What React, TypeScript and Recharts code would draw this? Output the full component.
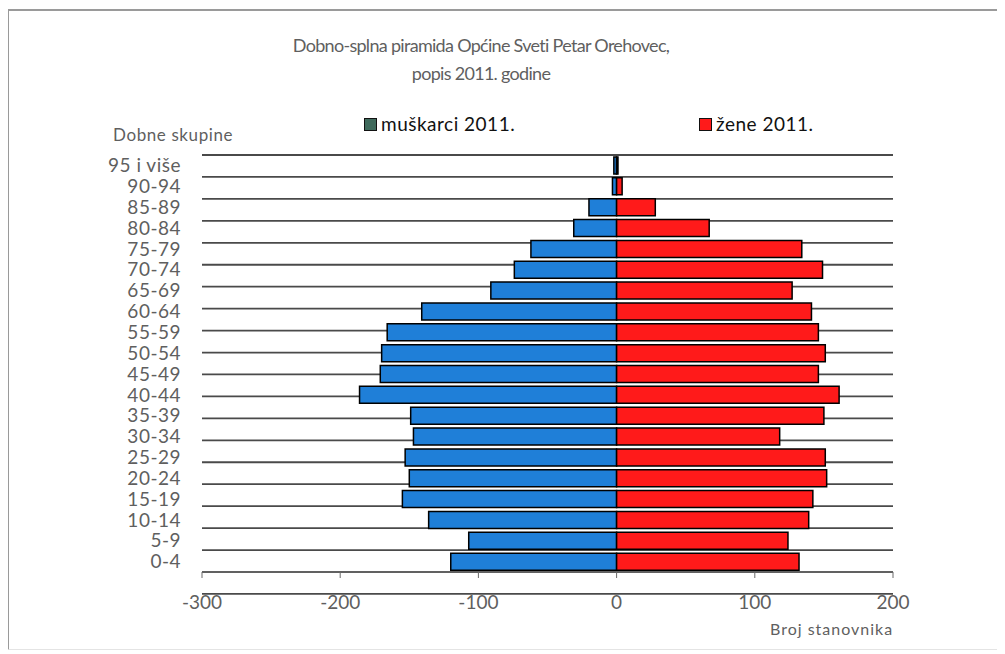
import React from "react";
import {
  BarChart,
  Bar,
  XAxis,
  YAxis,
  CartesianGrid,
  Legend,
} from "recharts";

const ageGroups = [
  "95 i više", "90-94", "85-89", "80-84", "75-79", "70-74", "65-69",
  "60-64", "55-59", "50-54", "45-49", "40-44", "35-39", "30-34",
  "25-29", "20-24", "15-19", "10-14", "5-9", "0-4",
];
const males = [2, 3, 20, 31, 62, 74, 91, 141, 166, 170, 171, 186, 149, 147, 153, 150, 155, 136, 107, 120];
const females = [1, 4, 28, 67, 134, 149, 127, 141, 146, 151, 146, 161, 150, 118, 151, 152, 142, 139, 124, 132];
const xTicks = [-300, -200, -100, 0, 100, 200];
const gridTicks = [0, 1, 2, 3, 4, 5, 6, 7, 8, 9, 10, 11, 12, 13, 14, 15, 16, 17, 18, 19, 20];

const seriesNames = { m: "muškarci 2011.", z: "žene 2011." };
const legendSwatch: Record<string, string> = { m: "#3f6a5c", z: "#ff1a1a" };

const data = ageGroups.map((g, i) => ({ group: g, m: -males[i], z: females[i] }));

const GREY = "#5f5f5f";
const FONT = "Lato, 'Open Sans', sans-serif";

const renderLegend = (props: any) => {
  const payload = props.payload || [];
  const lefts: Record<string, number> = { m: 364, z: 699 };
  return (
    <div style={{ position: "relative", width: 1005, height: 0, overflow: "visible" }}>
      {payload.map((p: any) => (
        <div
          key={p.dataKey}
          style={{
            position: "absolute",
            left: lefts[p.dataKey],
            top: 0,
            display: "flex",
            alignItems: "center",
            fontFamily: FONT,
            fontSize: 19,
            letterSpacing: 0.5,
            lineHeight: "22px",
            color: "#111",
            whiteSpace: "nowrap",
          }}
        >
          <span
            style={{
              display: "inline-block",
              width: 11,
              height: 11,
              background: legendSwatch[p.dataKey],
              border: "1.5px solid #111",
              marginRight: 4,
            }}
          />
          {p.value}
        </div>
      ))}
    </div>
  );
};

export default function App() {
  return (
    <div
      style={{
        position: "relative",
        left: -8,
        top: -8,
        width: 1005,
        height: 654,
        background: "#fff",
        fontFamily: FONT,
      }}
    >
      <div
        style={{
          position: "absolute",
          left: 7,
          top: 9,
          right: -2,
          bottom: 4,
          borderTop: "2px solid #9a9a9a",
          borderLeft: "2px solid #9a9a9a",
          borderBottom: "1px solid #e4e4e4",
        }}
      />
      <div
        style={{
          position: "absolute",
          left: 0,
          width: 962,
          top: 31,
          textAlign: "center",
          color: GREY,
          fontSize: 18,
          letterSpacing: -0.7,
          lineHeight: "28px",
          fontFamily: FONT,
        }}
      >
        Dobno-splna piramida Općine Sveti Petar Orehovec,
        <br />
        popis 2011. godine
      </div>
      <div
        style={{
          position: "absolute",
          left: 113,
          top: 124,
          color: GREY,
          fontSize: 17,
          letterSpacing: 0.6,
          fontFamily: FONT,
        }}
      >
        Dobne skupine
      </div>
      <div
        style={{
          position: "absolute",
          left: 770,
          top: 619,
          color: GREY,
          fontSize: 16,
          letterSpacing: 1,
          fontFamily: FONT,
        }}
      >
        Broj stanovnika
      </div>
      <div style={{ position: "absolute", left: 0, top: 0 }}>
        <BarChart
          width={1005}
          height={654}
          data={data}
          layout="vertical"
          stackOffset="sign"
          margin={{ top: 155, right: 112, bottom: 52, left: 0 }}
          barSize={17}
        >
          <YAxis yAxisId="grid" type="number" domain={[0, 20]} ticks={gridTicks} interval={0} hide />
          <CartesianGrid
            yAxisId="grid"
            vertical={false}
            horizontal
            stroke="#4a4a4a"
            strokeWidth={1.8}
          />
          <XAxis
            type="number"
            domain={[-300, 200]}
            ticks={xTicks}
            allowDataOverflow
            axisLine={{ stroke: "#6a6a6a", strokeWidth: 1.5 }}
            tickLine={{ stroke: "#6a6a6a" }}
            tickSize={6}
            tickMargin={18}
            tick={{ fill: GREY, fontSize: 19, fontFamily: FONT }}
          />
          <YAxis
            type="category"
            dataKey="group"
            width={202}
            axisLine={false}
            tickLine={false}
            tickSize={0}
            tickMargin={21}
            interval={0}
            tick={{ fill: GREY, fontSize: 19, letterSpacing: 0.5, fontFamily: FONT }}
          />
          <Legend
            verticalAlign="top"
            content={renderLegend}
            wrapperStyle={{ position: "absolute", top: 113, left: 0, width: 1005, height: 0 }}
          />
          <Bar
            dataKey="m"
            name={seriesNames.m}
            stackId="a"
            fill="#1f7fd8"
            stroke="#000"
            strokeWidth={1.5}
            isAnimationActive={false}
          />
          <Bar
            dataKey="z"
            name={seriesNames.z}
            stackId="a"
            fill="#ff1a1a"
            stroke="#000"
            strokeWidth={1.5}
            isAnimationActive={false}
          />
        </BarChart>
      </div>
    </div>
  );
}
